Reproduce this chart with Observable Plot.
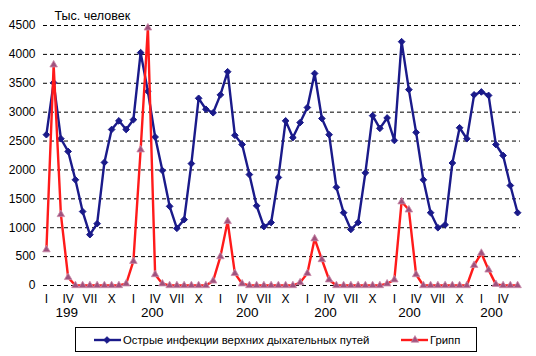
<!DOCTYPE html>
<html><head><meta charset="utf-8">
<script src="https://cdn.jsdelivr.net/npm/d3@7"></script>
<script src="https://cdn.jsdelivr.net/npm/@observablehq/plot@0.6"></script>
<style>
body{margin:0;background:#fff;font-family:"Liberation Sans",Arial,sans-serif;}
#wrap{position:relative;width:536px;height:356px;overflow:hidden;}
#legend{position:absolute;left:75px;top:327px;width:400px;height:23px;border:1px solid #000;font-size:11.3px;color:#000;}
.item{position:absolute;top:0;height:23px;display:flex;align-items:center;white-space:nowrap;}
.item svg{display:block;margin-right:2px;}
</style>
</head><body>
<div id="wrap"><div id="chart"></div><div id="legend"></div></div>
<script>
const series = ["Острые инфекции верхних дыхательных путей", "Грипп"];
const seriesColors = ["#1a1a8a", "#ff1a1a"];
const monthNames = ["I", "IV", "VII", "X"];
const yearLabels = ["199", "200", "200", "200", "200", "200"];
const yearLabelAt = [2.8, 14.6, 27.7, 38.5, 50.1, 61.4];
const yTicks = [0, 500, 1000, 1500, 2000, 2500, 3000, 3500, 4000, 4500];
const yTitle = "Тыс. человек";

const orvi = [2610, 3510, 2540, 2320, 1830, 1280, 880, 1070, 2130, 2700, 2850, 2700,
  2870, 4030, 3360, 2570, 1990, 1370, 990, 1140, 2110, 3240, 3050, 2990,
  3300, 3700, 2600, 2440, 1920, 1380, 1020, 1090, 1870, 2850, 2560, 2820,
  3080, 3670, 2890, 2610, 1700, 1260, 970, 1090, 1950, 2940, 2720, 2900,
  2510, 4220, 3390, 2650, 1830, 1260, 1000, 1050, 2120, 2730, 2540, 3300,
  3350, 3290, 2440, 2250, 1730, 1260];
const flu = [620, 3820, 1230, 140, 0, 0, 0, 0, 0, 0, 0, 30,
  420, 2350, 4460, 190, 30, 0, 0, 0, 0, 0, 0, 80,
  500, 1110, 210, 30, 0, 0, 0, 0, 0, 0, 0, 50,
  210, 810, 450, 100, 0, 0, 0, 0, 0, 0, 0, 30,
  100, 1450, 1310, 190, 0, 0, 0, 0, 0, 0, 0, 350,
  560, 270, 20, 0, 0, 0];

const orviData = orvi.map((v, i) => ({i, v}));
const fluData = flu.map((v, i) => ({i, v}));
const monthTicks = d3.range(0, orvi.length, 3).map(i => ({i, label: monthNames[(i % 12) / 3]}));
const years = yearLabels.map((label, k) => ({label, at: yearLabelAt[k]}));

const plot = Plot.plot({
  width: 536, height: 325,
  marginTop: 25, marginBottom: 40, marginLeft: 43, marginRight: 16,
  x: {domain: [-0.4, 65.4], axis: null},
  y: {domain: [0, 4500], axis: null},
  style: {fontFamily: "'Liberation Sans', Arial, sans-serif", fontSize: "11.5px", background: "white", overflow: "visible", color: "#000"},
  marks: [
    Plot.ruleY(yTicks, {stroke: "#000", strokeDasharray: "4,3", strokeWidth: 1}),
    Plot.text(yTicks, {y: d => d, text: d => String(d), frameAnchor: "left", dx: -8, textAnchor: "end", fill: "#000", fontSize: 12}),
    Plot.line(orviData, {x: "i", y: "v", stroke: seriesColors[0], strokeWidth: 2.4}),
    Plot.dot(orviData, {x: "i", y: "v", symbol: "diamond2", r: 3, fill: seriesColors[0], stroke: seriesColors[0], strokeWidth: 1}),
    Plot.line(fluData, {x: "i", y: "v", stroke: seriesColors[1], strokeWidth: 2.4}),
    Plot.dot(fluData, {x: "i", y: "v", symbol: "triangle", r: 2.8, fill: "#a0527d", stroke: "#c98aaa", strokeWidth: 0.8}),
    Plot.text(monthTicks, {x: "i", text: "label", frameAnchor: "bottom", dy: 17, fontSize: 12, fill: "#000"}),
    Plot.text(years, {x: "at", text: "label", frameAnchor: "bottom", dy: 31, fontSize: 13.5, fill: "#000"}),
    Plot.text([yTitle], {text: d => d, frameAnchor: "top-left", lineAnchor: "middle", dx: 11, dy: -10, textAnchor: "start", fontSize: 12.5, fill: "#000"})
  ]
});
document.getElementById("chart").appendChild(plot);

// legend
const legend = d3.select("#legend");
const lefts = [18, 325];
series.forEach((name, k) => {
  const item = legend.append("div").attr("class", "item").style("left", lefts[k] + "px");
  const svg = item.append("svg").attr("width", 27).attr("height", 12);
  svg.append("line").attr("x1", 0).attr("x2", 27).attr("y1", 6).attr("y2", 6)
    .attr("stroke", seriesColors[k]).attr("stroke-width", 2.4);
  if (k === 0) {
    svg.append("path").attr("d", d3.symbol(d3.symbolDiamond2, 28)()).attr("transform", "translate(13,6)")
      .attr("fill", seriesColors[0]).attr("stroke", seriesColors[0]);
  } else {
    svg.append("path").attr("d", d3.symbol(d3.symbolTriangle, 25)()).attr("transform", "translate(14,6)")
      .attr("fill", "#a0527d").attr("stroke", "#c98aaa").attr("stroke-width", 0.8);
  }
  item.append("span").text(name);
});
</script>
</body></html>
